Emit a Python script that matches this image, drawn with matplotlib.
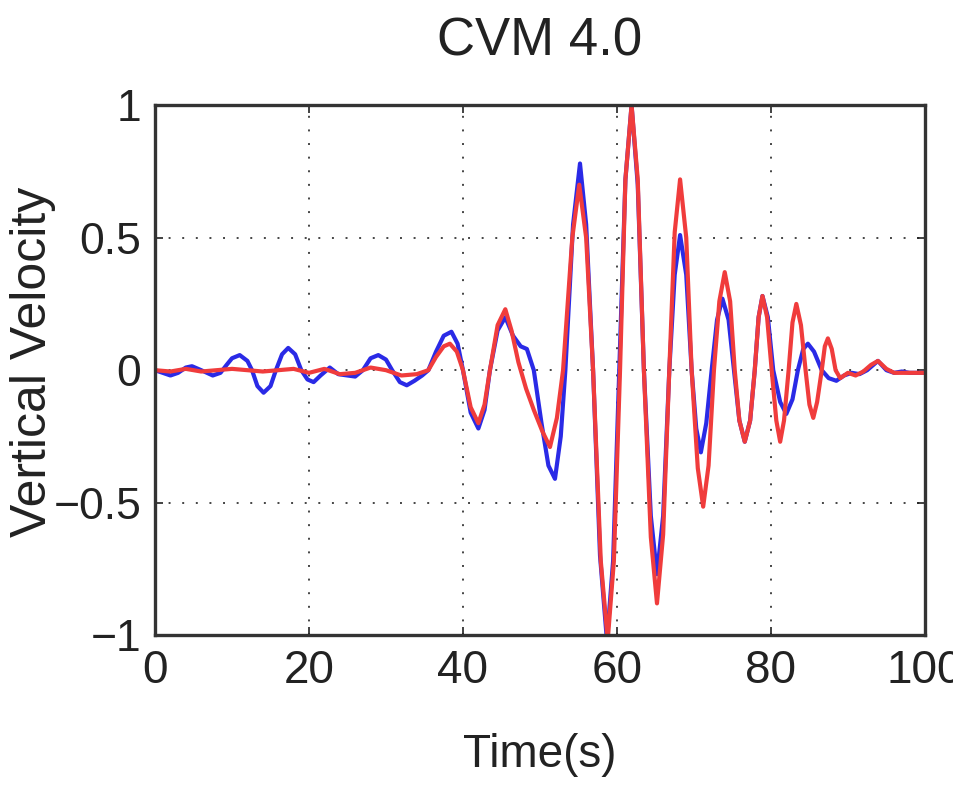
import numpy as np
import matplotlib.pyplot as plt

# --- data (time in s, normalised vertical velocity) ---
t_blue = [0, 1, 2, 3, 4, 4.8, 6, 7.5, 8.5, 9.3, 10, 11, 12, 12.6, 13.3, 14.1, 15, 15.7,
          16.5, 17.3, 18.2, 19, 19.8, 20.6, 21.5, 22.7, 23.8, 25, 26, 27, 28, 29, 30,
          30.8, 31.8, 32.7, 33.7, 34.7, 35.5, 36.5, 37.5, 38.5, 39.3, 40.0, 41.0, 42.0,
          42.8, 43.5, 44.5, 45.5, 46.5, 47.5, 48.3, 49.2, 50.2, 51.1, 51.95, 52.7, 53.3,
          54.3, 55.2, 56.0, 56.9, 57.8, 58.7, 59.5, 60.3, 61.1, 61.9, 62.7, 63.5, 64.4,
          65.2, 66.0, 66.8, 67.5, 68.2, 69.0, 69.7, 70.3, 70.9, 71.6, 72.3, 73.0, 73.7,
          74.5, 75.2, 75.9, 76.6, 77.3, 77.9, 78.4, 78.9, 79.6, 80.3, 81.2, 82.0, 82.8,
          83.5, 84.2, 84.8, 85.6, 86.6, 87.5, 88.5, 89.5, 90.5, 91.5, 92.5, 93.9, 95,
          96, 97, 98, 100]
v_blue = [0.0, -0.01, -0.02, -0.01, 0.01, 0.015, 0.0, -0.02, -0.01, 0.02, 0.045, 0.057,
          0.035, 0.0, -0.06, -0.085, -0.06, 0.0, 0.06, 0.084, 0.06, 0.0, -0.035, -0.045,
          -0.02, 0.01, -0.015, -0.02, -0.024, 0.0, 0.045, 0.057, 0.04, 0.0, -0.045,
          -0.057, -0.04, -0.02, 0.0, 0.07, 0.13, 0.145, 0.1, 0.0, -0.16, -0.22, -0.15,
          0.0, 0.15, 0.2, 0.13, 0.09, 0.08, 0.0, -0.2, -0.36, -0.41, -0.25, 0.0, 0.55,
          0.78, 0.55, 0.0, -0.7, -1.02, -0.72, 0.0, 0.72, 1.0, 0.7, 0.0, -0.55, -0.77,
          -0.55, 0.0, 0.36, 0.51, 0.36, 0.0, -0.22, -0.31, -0.2, 0.0, 0.19, 0.27, 0.19,
          0.0, -0.19, -0.27, -0.19, 0.0, 0.2, 0.28, 0.2, 0.0, -0.12, -0.165, -0.11, 0.0,
          0.08, 0.10, 0.07, 0.0, -0.03, -0.04, -0.02, -0.01, -0.015, 0.0, 0.035, 0.0,
          -0.01, -0.005, -0.01, -0.01]

t_red = [0, 2, 4, 6, 8, 10, 14, 18, 20, 22, 24, 26, 28, 30, 32, 34, 35.5, 36.5, 37.5,
         38.3, 39.2, 40.0, 41.0, 42.0, 42.8, 43.5, 44.5, 45.5, 46.3, 47.2, 48.2, 49.2,
         50.3, 51.3, 52.2, 53.0, 54.2, 55.1, 56.0, 56.9, 57.9, 58.8, 59.6, 60.4, 61.1,
         61.9, 62.7, 63.5, 64.4, 65.2, 66.0, 66.8, 67.5, 68.2, 69.0, 69.7, 70.5, 71.2,
         71.9, 72.6, 73.3, 74.0, 74.7, 75.3, 75.9, 76.6, 77.3, 77.9, 78.4, 78.9, 79.5,
         80.1, 80.7, 81.2, 81.7, 82.3, 82.8, 83.3, 83.9, 84.5, 85.0, 85.5, 86.0, 86.6,
         87.0, 87.4, 87.9, 88.4, 89.0, 90, 91, 92, 93, 93.9, 95, 96, 97, 98, 100]
v_red = [0.0, -0.005, 0.005, -0.005, 0.0, 0.005, -0.005, 0.005, -0.01, 0.005, -0.015,
         -0.01, 0.01, 0.0, -0.02, -0.015, 0.0, 0.05, 0.09, 0.10, 0.07, 0.0, -0.14, -0.2,
         -0.13, 0.0, 0.17, 0.23, 0.15, 0.03, -0.07, -0.15, -0.23, -0.29, -0.18, 0.0, 0.5,
         0.7, 0.5, 0.0, -0.72, -1.02, -0.72, 0.0, 0.72, 1.0, 0.72, 0.0, -0.63, -0.88,
         -0.62, 0.0, 0.52, 0.72, 0.5, 0.0, -0.37, -0.515, -0.36, 0.0, 0.26, 0.37, 0.26,
         0.0, -0.19, -0.27, -0.19, 0.0, 0.2, 0.28, 0.2, 0.0, -0.19, -0.27, -0.19, 0.0,
         0.18, 0.25, 0.17, 0.0, -0.13, -0.18, -0.12, 0.0, 0.09, 0.12, 0.08, 0.0, -0.03,
         -0.01, -0.02, -0.005, 0.02, 0.035, 0.005, -0.01, -0.01, -0.01, -0.01]

xticks = [0, 20, 40, 60, 80, 100]
yticks = [-1, -0.5, 0, 0.5, 1]
ytick_labels = ["\u22121", "\u22120.5", "0", "0.5", "1"]

sans = ["Liberation Sans", "DejaVu Sans"]

fig = plt.figure(figsize=(9.54, 7.91), dpi=100)
ax = fig.add_axes([0.1625, 0.197, 0.807, 0.670])

ax.plot(t_blue, v_blue, color="#2a2ae6", lw=3.0, solid_joinstyle="round")
ax.plot(t_red, v_red, color="#f03c3c", lw=3.0, solid_joinstyle="round")

ax.set_xlim(0, 100)
ax.set_ylim(-1, 1)
ax.set_xticks(xticks)
ax.set_yticks(yticks)
ax.set_xticklabels([str(x) for x in xticks], family=sans, fontsize=33)
ax.set_yticklabels(ytick_labels, family=sans, fontsize=32)
ax.tick_params(direction="in", top=True, right=True, length=6, width=1.2, pad=10,
               colors="#222222")
ax.grid(True, linestyle=(0, (1, 6)), color="#444444", lw=1.4)

for s in ax.spines.values():
    s.set_linewidth(2.4)
    s.set_color("#333333")

ax.set_title("CVM 4.0", family=sans, fontsize=38, pad=36, color="#222222")
ax.set_xlabel("Time(s)", family=sans, fontsize=33, color="#222222")
ax.xaxis.set_label_coords(0.5, -0.185)
ax.set_ylabel("Vertical Velocity", family=sans, fontsize=36, color="#222222")
ax.yaxis.label.set_va("center")
ax.yaxis.set_label_coords(-0.158, 0.515)

fig.savefig("out.png", dpi=100)
